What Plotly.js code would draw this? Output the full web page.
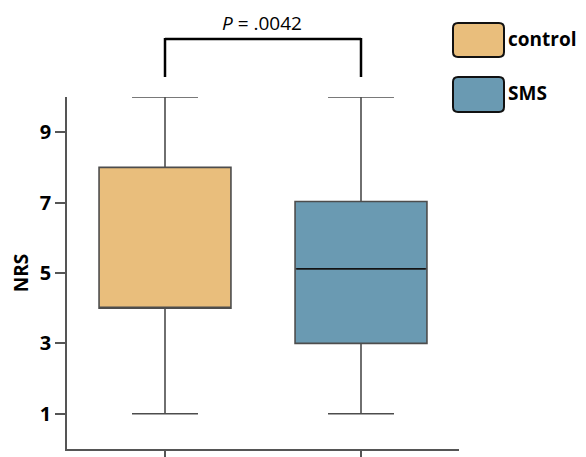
<!DOCTYPE html>
<html>
<head>
<meta charset="utf-8">
<script src="https://cdn.plot.ly/plotly-3.0.1.min.js"></script>
<style>html,body{margin:0;padding:0;background:#fff}#chart{width:586px;height:457px}</style>
</head>
<body>
<div id="chart"></div>
<script>
// ---- data ----
const groups = ['control', 'SMS'];
const colors = ['#E9BE7C', '#6A9AB2'];
const lowerWhisker = [1, 1];
const q1Values = [4, 3];
const medianValues = [4, 5.12];
const q3Values = [8, 7.03];
const upperWhisker = [10, 10];
const yTicks = [1, 3, 5, 7, 9];
const pLabel = '<i>P</i> = .0042';
const yTitle = 'NRS';

// ---- layout helpers ----
const W = 586, H = 457;
const M = {l: 67, r: 127, t: 97, b: 8};
const PW = W - M.l - M.r, PH = H - M.t - M.b;
const px = x => (x - M.l) / PW;
const py = y => (H - M.b - y) / PH;
function roundRect(x0, y0, x1, y1, r) {
  const P = (x, y) => px(x).toFixed(5) + ',' + py(y).toFixed(5);
  return 'M' + P(x0 + r, y0) + ' L' + P(x1 - r, y0) + ' Q' + P(x1, y0) + ' ' + P(x1, y0 + r) +
    ' L' + P(x1, y1 - r) + ' Q' + P(x1, y1) + ' ' + P(x1 - r, y1) +
    ' L' + P(x0 + r, y1) + ' Q' + P(x0, y1) + ' ' + P(x0, y1 - r) +
    ' L' + P(x0, y0 + r) + ' Q' + P(x0, y0) + ' ' + P(x0 + r, y0) + ' Z';
}
const FONT = '"Open Sans", "DejaVu Sans", sans-serif';

const traces = groups.map((g, i) => ({
  type: 'box',
  x: [g],
  q1: [q1Values[i]],
  median: [medianValues[i]],
  q3: [q3Values[i]],
  lowerfence: [lowerWhisker[i]],
  upperfence: [upperWhisker[i]],
  fillcolor: colors[i],
  line: {color: '#4d4d4d', width: 1.6},
  width: 0.673,
  whiskerwidth: 0.5,
  boxpoints: false,
  showlegend: false,
  hoverinfo: 'skip'
}));
// black median line for SMS group
traces.push({
  type: 'box',
  x: [groups[1]],
  q1: [medianValues[1]], median: [medianValues[1]], q3: [medianValues[1]],
  lowerfence: [medianValues[1]], upperfence: [medianValues[1]],
  fillcolor: 'rgba(0,0,0,0)',
  line: {color: '#000', width: 1.2},
  width: 0.66,
  whiskerwidth: 0,
  boxpoints: false,
  showlegend: false,
  hoverinfo: 'skip'
});

const shapes = [
  {type: 'line', xref: 'x', yref: 'paper', x0: groups[0], x1: groups[1], y0: py(39), y1: py(39), line: {color: '#000', width: 2.5}},
  {type: 'line', xref: 'x', yref: 'paper', x0: groups[0], x1: groups[0], y0: py(38), y1: py(77), line: {color: '#000', width: 2.5}},
  {type: 'line', xref: 'x', yref: 'paper', x0: groups[1], x1: groups[1], y0: py(38), y1: py(77), line: {color: '#000', width: 2.5}}
];
const legendRows = [[23, 57], [77, 112]];
groups.forEach((g, i) => {
  shapes.push({
    type: 'path', xref: 'paper', yref: 'paper',
    path: roundRect(453, legendRows[i][0], 504, legendRows[i][1], 5),
    fillcolor: colors[i], line: {color: '#111', width: 2}
  });
});

const annotations = [
  {xref: 'paper', yref: 'paper', x: px(262), y: py(23), xanchor: 'center', yanchor: 'middle',
   text: pLabel, showarrow: false, font: {family: FONT, size: 19, color: '#000'}}
];
groups.forEach((g, i) => {
  annotations.push({
    xref: 'paper', yref: 'paper', x: px(506), y: py((legendRows[i][0] + legendRows[i][1]) / 2 - 1),
    xanchor: 'left', yanchor: 'middle', text: '<b>' + g + '</b>', showarrow: false,
    font: {family: FONT, size: 19, color: '#000'}
  });
});

const layout = {
  width: W, height: H,
  margin: M,
  paper_bgcolor: '#fff', plot_bgcolor: '#fff',
  showlegend: false,
  font: {family: FONT, color: '#000'},
  xaxis: {
    type: 'category', categoryorder: 'array', categoryarray: groups,
    range: [-0.5, 1.5], showticklabels: false, ticks: 'outside', ticklen: 9,
    tickcolor: '#555', tickwidth: 1.8, showline: true, linecolor: '#555', linewidth: 1.8,
    showgrid: false, zeroline: false, fixedrange: true
  },
  yaxis: {
    range: [0, 10], tickmode: 'array', tickvals: yTicks, ticktext: yTicks.map(v => '<b>' + v + '</b>'),
    ticks: 'outside', ticklen: 10, tickcolor: '#555', tickwidth: 1.8,
    showline: true, linecolor: '#555', linewidth: 1.8, showgrid: false, zeroline: false,
    tickfont: {family: FONT, size: 20, color: '#000'},
    title: {text: '<b>' + yTitle + '</b>', font: {family: FONT, size: 19, color: '#000'}, standoff: 6},
    fixedrange: true
  },
  shapes: shapes,
  annotations: annotations
};

Plotly.newPlot('chart', traces, layout, {displayModeBar: false, staticPlot: true});
</script>
</body>
</html>
